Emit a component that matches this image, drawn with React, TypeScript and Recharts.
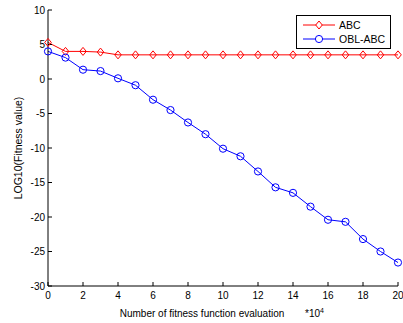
import React from 'react';
import { LineChart, Line, XAxis, YAxis, Legend } from 'recharts';

const evals = [0, 1, 2, 3, 4, 5, 6, 7, 8, 9, 10, 11, 12, 13, 14, 15, 16, 17, 18, 19, 20];
const abcValues = [5.3, 4.0, 4.0, 3.9, 3.5, 3.5, 3.5, 3.5, 3.5, 3.5, 3.5, 3.5, 3.5, 3.5, 3.5, 3.5, 3.5, 3.5, 3.5, 3.5, 3.5];
const oblValues = [4.0, 3.1, 1.35, 1.15, 0.1, -0.9, -3.0, -4.5, -6.3, -8.0, -10.1, -11.2, -13.4, -15.7, -16.5, -18.5, -20.4, -20.7, -23.2, -25.0, -26.6];
const xTicks = [0, 2, 4, 6, 8, 10, 12, 14, 16, 18, 20];
const yTicks = [-30, -25, -20, -15, -10, -5, 0, 5, 10];
const seriesNames = ['ABC', 'OBL-ABC'];
const xLabel = 'Number of fitness function evaluation';
const yLabel = 'LOG10(Fitness value)';

const data = evals.map((e, i) => ({ x: e, abc: abcValues[i], obl: oblValues[i] }));

const FONT = '"Liberation Sans", Arial, Helvetica, sans-serif';
const RED = '#ff0000';
const BLUE = '#0000ff';

const Diamond = (props: any) => {
  const { cx, cy, index } = props;
  if (cx == null || cy == null) return <g key={`d-${index}`} />;
  return (
    <path
      key={`d-${index}`}
      d={`M${cx},${cy - 4} L${cx + 3.3},${cy} L${cx},${cy + 4} L${cx - 3.3},${cy} Z`}
      fill="none"
      stroke={RED}
      strokeWidth={1}
    />
  );
};

const Circle = (props: any) => {
  const { cx, cy, index } = props;
  if (cx == null || cy == null) return <g key={`c-${index}`} />;
  return <circle key={`c-${index}`} cx={cx} cy={cy} r={3.6} fill="none" stroke={BLUE} strokeWidth={1} />;
};

const EmptyTick = () => <g />;

const XLabel = (props: any) => {
  const vb = props.viewBox || { x: 48, y: 286, width: 350, height: 37 };
  return (
    <g>
      <text x={vb.x + 154} y={vb.y + 30.5} textAnchor="middle" fontSize={10} fontFamily={FONT} fill="#000">
        {xLabel}
      </text>
      <text x={vb.x + 257} y={vb.y + 30.5} textAnchor="start" fontSize={10} fontFamily={FONT} fill="#000">
        *10
        <tspan dy={-4} fontSize={7}>4</tspan>
      </text>
    </g>
  );
};

const YLabel = () => (
  <text
    x={18}
    y={148}
    transform="rotate(-90 18 148)"
    textAnchor="middle"
    dominantBaseline="central"
    fontSize={10.5}
    fontFamily={FONT}
    fill="#000"
  >
    {yLabel}
  </text>
);

const LegendBox = () => (
  <svg width={96} height={35} style={{ display: 'block' }}>
    <rect x={0.5} y={0.5} width={94} height={33} fill="#fff" stroke="#000" strokeWidth={1} />
    <line x1={7} y1={10} x2={39} y2={10} stroke={RED} strokeWidth={1} />
    <path d="M23,6 L26.3,10 L23,14 L19.7,10 Z" fill="#fff" stroke={RED} strokeWidth={1} />
    <text x={43} y={13.5} fontSize={10.5} fontFamily={FONT} fill="#000">{seriesNames[0]}</text>
    <line x1={7} y1={24} x2={39} y2={24} stroke={BLUE} strokeWidth={1} />
    <circle cx={23} cy={24} r={3.6} fill="#fff" stroke={BLUE} strokeWidth={1} />
    <text x={43} y={27.5} fontSize={10.5} fontFamily={FONT} fill="#000">{seriesNames[1]}</text>
  </svg>
);

export default function App() {
  return (
    <div style={{ position: 'absolute', left: 0, top: 0, width: 403, height: 323, background: '#fff' }}>
      <LineChart width={403} height={323} data={data} margin={{ top: 10, right: 5, bottom: 0, left: 0 }}>
        <XAxis
          dataKey="x"
          type="number"
          domain={[0, 20]}
          ticks={xTicks}
          height={37}
          tickSize={-4}
          tickMargin={10}
          axisLine={{ stroke: '#000', strokeWidth: 1 }}
          tickLine={{ stroke: '#000' }}
          tick={{ fontSize: 10, fontFamily: FONT, fill: '#000' }}
          interval={0}
          label={<XLabel />}
        />
        <XAxis
          xAxisId="top"
          orientation="top"
          dataKey="x"
          type="number"
          domain={[0, 20]}
          ticks={xTicks}
          height={0}
          tickSize={-4}
          axisLine={{ stroke: '#000', strokeWidth: 1 }}
          tickLine={{ stroke: '#000' }}
          tick={EmptyTick}
          interval={0}
        />
        <YAxis
          type="number"
          domain={[-30, 10]}
          ticks={yTicks}
          width={48}
          tickSize={-4}
          tickMargin={7}
          axisLine={{ stroke: '#000', strokeWidth: 1 }}
          tickLine={{ stroke: '#000' }}
          tick={{ fontSize: 10, fontFamily: FONT, fill: '#000' }}
          interval={0}
          label={<YLabel />}
        />
        <YAxis
          yAxisId="right"
          orientation="right"
          type="number"
          domain={[-30, 10]}
          ticks={yTicks}
          width={0}
          tickSize={-4}
          axisLine={{ stroke: '#000', strokeWidth: 1 }}
          tickLine={{ stroke: '#000' }}
          tick={EmptyTick}
          interval={0}
        />
        <Line
          dataKey="abc"
          name={seriesNames[0]}
          stroke={RED}
          strokeWidth={1}
          dot={Diamond}
          activeDot={false}
          isAnimationActive={false}
        />
        <Line
          dataKey="obl"
          name={seriesNames[1]}
          stroke={BLUE}
          strokeWidth={1}
          dot={Circle}
          activeDot={false}
          isAnimationActive={false}
        />
        <Legend
          layout="horizontal"
          verticalAlign="middle"
          align="center"
          content={<LegendBox />}
          wrapperStyle={{ position: 'absolute', left: 296, top: 15, width: 96, height: 35 }}
        />
      </LineChart>
    </div>
  );
}
